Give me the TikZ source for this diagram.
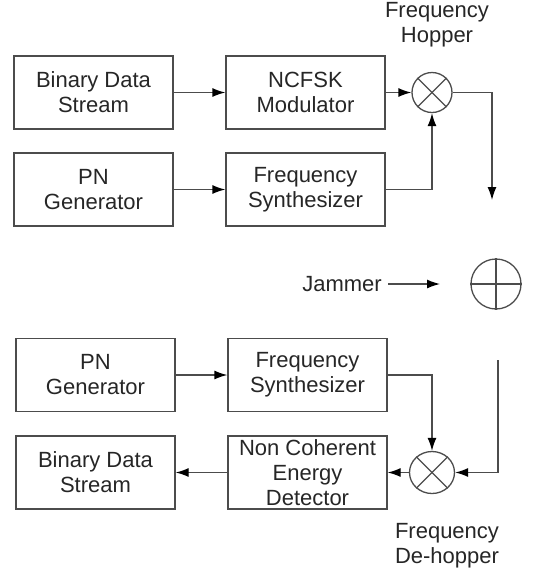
\documentclass[tikz,border=0pt]{standalone}
\usepackage{fontspec}
\setmainfont{Liberation Sans}
\usetikzlibrary{arrows.meta}
\usetikzlibrary{shapes.geometric}

\begin{document}
\begin{tikzpicture}[x=0.5pt, y=-0.5pt, line width=0.65pt, draw=black!70,
    font=\fontsize{11}{12.5}\selectfont, text=black!85,
    block/.style={draw, minimum width=79.5pt, minimum height=36.5pt, inner sep=0pt, align=center},
    mixer/.style={draw, circle, minimum size=20pt, inner sep=0pt},
    tag/.style={align=center, inner sep=0pt},
    link/.style={-{Latex[length=6.5pt,width=4.5pt,color=black]}}]

    \useasboundingbox (0, 0) rectangle (546, 569);

    % transmitter
    \node [block] (bds) at (93.5, 92.5) {Binary Data\\Stream};
    \node [block] (ncfsk) at (305.5, 92.5) {NCFSK\\Modulator};
    \node [block] (pngen) at (93.5, 189.5) {PN\\Generator};
    \node [block] (fsyn) at (305.5, 189.5) {Frequency\\Synthesizer};
    \node [mixer] (hop) at (432, 92.5) {};
    \draw (hop.45) -- (hop.225);
    \draw (hop.135) -- (hop.315);
    \node [tag] (hoptxt) at (437, 25) {Frequency\\Hopper};
    \coordinate (down) at (492, 200);

    \draw [link] (bds) -- (ncfsk);
    \draw [link] (ncfsk) -- (hop);
    \draw [link] (pngen) -- (fsyn);
    \draw [link] (fsyn.east) -| (hop.south);
    \draw [link] (hop.east) -| (down);

    % channel
    \node [draw, circle, minimum size=25pt, inner sep=0pt] (jam) at (496, 284) {};
    \draw (jam.north) -- (jam.south);
    \draw (jam.west) -- (jam.east);
    \node [tag] (jamtxt) at (342, 284) {Jammer};
    \coordinate (jamin) at (440, 284);
    \draw [link] (jamtxt.east) ++(6, 0) coordinate (jamout) -- (jamin);

    % receiver
    \node [block] (pngenr) at (95.5, 375) {PN\\Generator};
    \node [block] (fsynr) at (307.5, 375) {Frequency\\Synthesizer};
    \node [block] (bdsr) at (95.5, 472.5) {Binary Data\\Stream};
    \node [block] (ncdet) at (307.5, 472.5) {Non Coherent\\Energy\\Detector};
    \node [draw, ellipse, minimum width=22.5pt, minimum height=21pt, inner sep=0pt] (dehop) at (432, 472.5) {};
    \draw (dehop.45) -- (dehop.225);
    \draw (dehop.135) -- (dehop.315);
    \node [tag] (dehoptxt) at (447, 546) {Frequency\\De-hopper};
    \coordinate (up) at (498, 360);

    \draw [link] (pngenr) -- (fsynr);
    \draw [link] (fsynr.east) -| (dehop.north);
    \draw [link] (up) |- (dehop.east);
    \draw [link] (dehop) -- (ncdet);
    \draw [link] (ncdet) -- (bdsr);
\end{tikzpicture}
\end{document}
